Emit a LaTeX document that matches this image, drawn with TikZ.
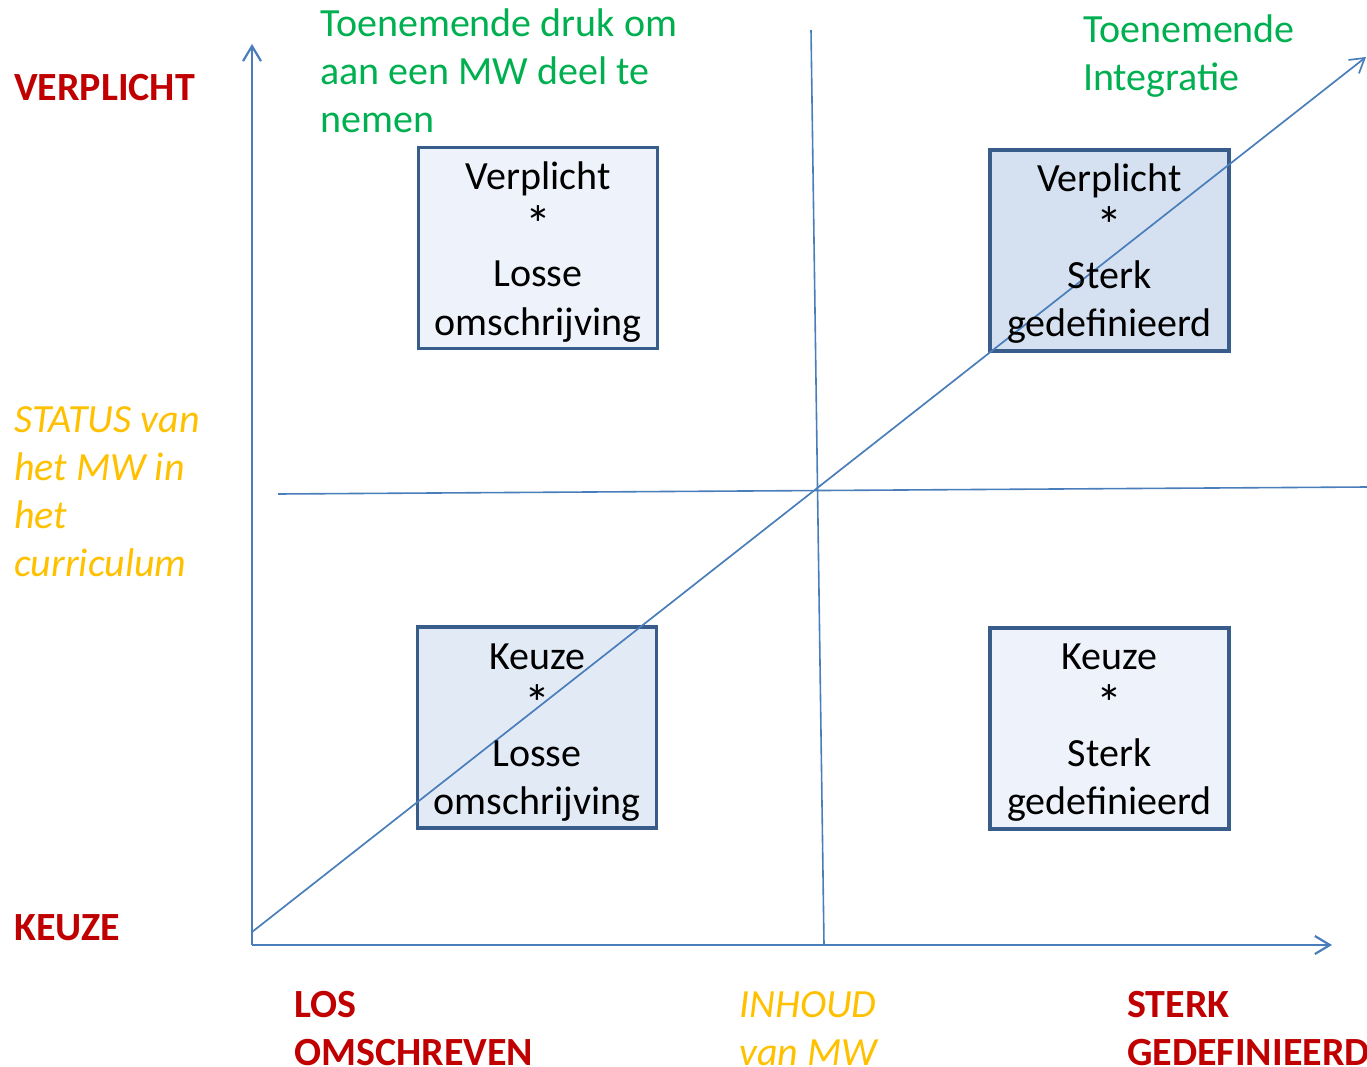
\documentclass[tikz,border=0pt]{standalone}
\usepackage{fontspec}
\setmainfont{Carlito}
\usetikzlibrary{arrows.meta}
\definecolor{axisblue}{HTML}{4A7EBB}
\definecolor{boxborder}{HTML}{385D8A}
\definecolor{fillA}{HTML}{EEF2FA}
\definecolor{fillB}{HTML}{D5E1F1}
\definecolor{fillC}{HTML}{E2EAF6}
\definecolor{redlab}{HTML}{C00000}
\definecolor{greenlab}{HTML}{00B050}
\definecolor{orangelab}{HTML}{FFC000}
\tikzset{
  quadbox/.style={draw=boxborder, line width=3.2pt, rectangle, minimum width=239pt, minimum height=201pt, inner sep=0pt},
  boxtext/.style={anchor=base, inner sep=0pt, font=\fontsize{40}{48.5}\selectfont},
  lab/.style={anchor=base west, inner sep=0pt, font=\fontsize{40}{48}\selectfont},
  axisline/.style={draw=axisblue, line width=2.2pt, -{Straight Barb[length=15pt,width=18pt,line width=2.2pt]}},
  diagline/.style={draw=axisblue, line width=1.7pt, -{Straight Barb[length=14pt,width=17pt,line width=1.7pt]}},
  midline/.style={draw=axisblue, line width=1.6pt}
}
\newcommand{\stack}[2]{\parbox[t]{#1}{\centering #2}}
\newcommand{\stackl}[2]{\parbox[t]{#1}{\raggedright #2}}
\newcommand{\bigast}{\raisebox{-4pt}{\fontsize{52}{48}\selectfont *}}
\begin{document}
\begin{tikzpicture}[x=1pt,y=-1pt]
\useasboundingbox (0,0) rectangle (1367,1067);
% boxes
\node[quadbox, fill=fillA] (tl) at (538,248) {};
\node[quadbox, fill=fillB] (tr) at (1109.5,250.5) {};
\node[quadbox, fill=fillC] (bl) at (537,727.5) {};
\node[quadbox, fill=fillA] (br) at (1109.5,728.5) {};
% axes and lines
\coordinate (origin) at (252,945);
\coordinate (ytop) at (252,44);
\coordinate (xend) at (1332,945);
\coordinate (dstart) at (252,932);
\coordinate (dend) at (1366,57);
\coordinate (vtop) at (811,30);
\coordinate (vbot) at (824,945);
\coordinate (hleft) at (278,494);
\coordinate (hright) at (1367,487);
\draw[midline] (vtop) -- (vbot);
\draw[midline] (hleft) -- (hright);
\draw[axisline] (origin) -- (ytop);
\draw[axisline] (origin) -- (xend);
\draw[diagline] (dstart) -- (dend);
% box texts
\node[boxtext] (tlt) at ([yshift=-44pt]tl.north) {\stack{240pt}{Verplicht\\\bigast\\Losse\\omschrijving}};
\node[boxtext] (trt) at ([yshift=-43pt]tr.north) {\stack{240pt}{Verplicht\\\bigast\\Sterk\\gedefinieerd}};
\node[boxtext] (blt) at ([yshift=-44pt]bl.north) {\stack{240pt}{Keuze\\\bigast\\Losse\\omschrijving}};
\node[boxtext] (brt) at ([yshift=-43pt]br.north) {\stack{240pt}{Keuze\\\bigast\\Sterk\\gedefinieerd}};
% labels
\node[lab, text=redlab, font=\fontsize{40}{48}\selectfont\bfseries] (verpl) at (14,101) {VERPLICHT};
\node[lab, text=redlab, font=\fontsize{40}{48}\selectfont\bfseries] (keuze) at (14,940) {KEUZE};
\node[lab, text=greenlab] (druk) at (320,37) {\stackl{420pt}{Toenemende druk om\\aan een MW deel te\\nemen}};
\node[lab, text=greenlab] (integ) at (1083,43) {\stackl{280pt}{Toenemende\\Integratie}};
\node[lab, text=orangelab, font=\fontsize{40}{48}\selectfont\itshape] (status) at (14,432) {\stackl{230pt}{STATUS van\\het MW in\\het\\curriculum}};
\node[lab, text=redlab, font=\fontsize{40}{48}\selectfont\bfseries] (los) at (294,1017) {\stackl{300pt}{LOS\\OMSCHREVEN}};
\node[lab, text=orangelab, font=\fontsize{40}{48}\selectfont\itshape] (inhoud) at (739,1017) {\stackl{200pt}{INHOUD\\van MW}};
\node[lab, text=redlab, font=\fontsize{40}{48}\selectfont\bfseries] (sterk) at (1127,1017) {\stackl{300pt}{STERK\\GEDEFINIEERD}};
\end{tikzpicture}
\end{document}
